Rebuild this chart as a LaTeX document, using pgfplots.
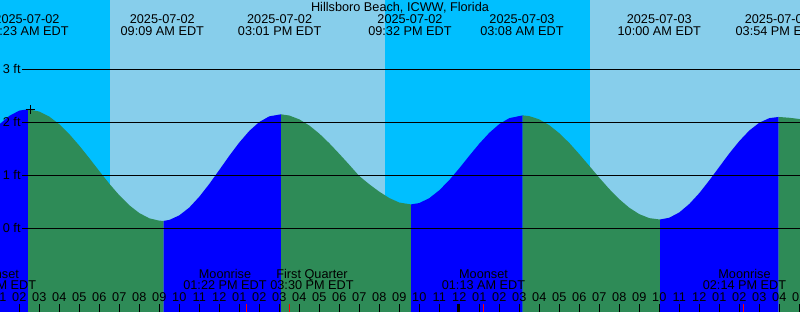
\documentclass[border=0pt]{standalone}
\usepackage{fontspec}
\setmainfont{Liberation Sans}
\usepackage{pgfplots}
\pgfplotsset{compat=1.18}
\definecolor{nightc}{HTML}{00BFFF}
\definecolor{dayc}{HTML}{87CEEB}
\definecolor{risec}{HTML}{0000FF}
\definecolor{fallc}{HTML}{2E8B57}
\newcommand\tf{\fontsize{12.7bp}{14bp}\selectfont}
\tikzset{lbl/.style={anchor=base, font=\tf, inner sep=0pt, overlay}}
\begin{document}
\begin{tikzpicture}
\begin{axis}[
  width=800bp, height=312bp, scale only axis,
  xmin=1.035, xmax=41.035, ymin=-1.58, ymax=4.307,
  axis line style={draw=none},
  axis on top,
  ytick=\empty,
  xtick={1,...,41},
  xticklabels={01,02,03,04,05,06,07,08,09,10,11,12,01,02,03,04,05,06,07,08,09,10,11,12,01,02,03,04,05,06,07,08,09,10,11,12,01,02,03,04,05},
  xtick pos=left,
  tick align=inside,
  major tick length=8bp,
  tick style={black, line width=1bp},
  xticklabel style={anchor=base, yshift=10.3bp, font=\tf, inner sep=0pt, overlay},
  extra x ticks={13.367,15.5,25.217,38.233},
  extra x tick labels={},
  extra x tick style={tick style={red, line width=1bp}},
  clip=true,
]
% day / night background
\addplot[fill=nightc, draw=none] coordinates {(1.035,-1.58) (1.035,4.307) (6.535,4.307) (6.535,-1.58)};
\addplot[fill=dayc, draw=none] coordinates {(6.535,-1.58) (6.535,4.307) (20.285,4.307) (20.285,-1.58)};
\addplot[fill=nightc, draw=none] coordinates {(20.285,-1.58) (20.285,4.307) (30.535,4.307) (30.535,-1.58)};
\addplot[fill=dayc, draw=none] coordinates {(30.535,-1.58) (30.535,4.307) (41.035,4.307) (41.035,-1.58)};
% tide: rising (blue) and falling (green)
\addplot[fill=risec, draw=none] coordinates {(1.035,-1.58) (1.035,1.97) (1.5,2.12) (2.0,2.22) (2.435,2.245) (2.435,-1.58)};
\addplot[fill=fallc, draw=none] coordinates {(2.435,-1.58) (2.435,2.245) (3,2.202) (3.5,2.107) (4,1.962) (4.5,1.776) (5,1.559) (5.5,1.323) (6,1.079) (6.5,0.841) (7,0.622) (7.5,0.434) (8,0.287) (8.5,0.188) (9,0.143) (9.22,0.14) (9.22,-1.58)};
\addplot[fill=risec, draw=none] coordinates {(9.22,-1.58) (9.22,0.14) (9.5,0.157) (10,0.243) (10.5,0.391) (11,0.595) (11.5,0.836) (12,1.100) (12.5,1.367) (13,1.618) (13.5,1.837) (14,2.005) (14.5,2.112) (15.085,2.15) (15.085,-1.58)};
\addplot[fill=fallc, draw=none] coordinates {(15.085,-1.58) (15.085,2.15) (15.5,2.127) (16,2.055) (16.5,1.939) (17,1.786) (17.5,1.604) (18,1.404) (18.5,1.197) (19,0.985) (19.5,0.83) (20,0.69) (20.5,0.57) (21,0.485) (21.585,0.45) (21.585,-1.58)};
\addplot[fill=risec, draw=none] coordinates {(21.585,-1.58) (21.585,0.45) (22,0.476) (22.5,0.568) (23,0.717) (23.5,0.909) (24,1.132) (24.5,1.368) (25,1.596) (25.5,1.801) (26,1.966) (26.5,2.078) (27.17,2.13) (27.17,-1.58)};
\addplot[fill=fallc, draw=none] coordinates {(27.17,-1.58) (27.17,2.13) (27.5,2.116) (28,2.054) (28.5,1.944) (29,1.793) (29.5,1.609) (30,1.398) (30.5,1.177) (31,0.953) (31.5,0.740) (32,0.548) (32.5,0.387) (33,0.266) (33.5,0.191) (34.035,0.165) (34.035,-1.58)};
\addplot[fill=risec, draw=none] coordinates {(34.035,-1.58) (34.035,0.165) (34.5,0.199) (35,0.299) (35.5,0.458) (36,0.663) (36.5,0.903) (37,1.158) (37.5,1.412) (38,1.645) (38.5,1.844) (39,1.991) (39.5,2.078) (39.97,2.10) (39.97,-1.58)};
\addplot[fill=fallc, draw=none] coordinates {(39.97,-1.58) (39.97,2.10) (40.5,2.085) (41.035,2.06) (41.035,-1.58)};
% depth lines
\addplot[black, line width=1bp] coordinates {(2.135,0) (41.035,0)};
\addplot[black, line width=1bp] coordinates {(2.135,1) (41.035,1)};
\addplot[black, line width=1bp] coordinates {(2.135,2) (41.035,2)};
\addplot[black, line width=1bp] coordinates {(2.135,3) (41.035,3)};
% midnight tick
\addplot[black, line width=3bp] coordinates {(23.98,-1.58) (23.98,-1.429)};
% current-time mark
\addplot[only marks, mark=+, mark size=4.3bp, black, mark options={line width=1bp}] coordinates {(2.55,2.245)};
% depth labels
\node[anchor=base west, font=\tf, inner sep=0pt, xshift=2.7bp, yshift=-4.6bp] at (axis cs:1.035,3) {3 ft};
\node[anchor=base west, font=\tf, inner sep=0pt, xshift=2.7bp, yshift=-4.6bp] at (axis cs:1.035,2) {2 ft};
\node[anchor=base west, font=\tf, inner sep=0pt, xshift=2.7bp, yshift=-4.6bp] at (axis cs:1.035,1) {1 ft};
\node[anchor=base west, font=\tf, inner sep=0pt, xshift=2.7bp, yshift=-4.6bp] at (axis cs:1.035,0) {0 ft};
% first hour label (tick just left of the frame)
\node[lbl, yshift=10.3bp] at (axis cs:1.0,-1.58) {01};
% title
\node[lbl, yshift=-11.7bp] at (axis cs:21.035,4.307) {Hillsboro Beach, ICWW, Florida};
% tide extremes labels
\node[lbl, yshift=-24bp] at (axis cs:2.383,4.307) {2025-07-02};
\node[lbl, yshift=-36bp] at (axis cs:2.383,4.307) {02:23 AM EDT};
\node[lbl, yshift=-24bp] at (axis cs:9.15,4.307) {2025-07-02};
\node[lbl, yshift=-36bp] at (axis cs:9.15,4.307) {09:09 AM EDT};
\node[lbl, yshift=-24bp] at (axis cs:15.017,4.307) {2025-07-02};
\node[lbl, yshift=-36bp] at (axis cs:15.017,4.307) {03:01 PM EDT};
\node[lbl, yshift=-24bp] at (axis cs:21.533,4.307) {2025-07-02};
\node[lbl, yshift=-36bp] at (axis cs:21.533,4.307) {09:32 PM EDT};
\node[lbl, yshift=-24bp] at (axis cs:27.133,4.307) {2025-07-03};
\node[lbl, yshift=-36bp] at (axis cs:27.133,4.307) {03:08 AM EDT};
\node[lbl, yshift=-24bp] at (axis cs:34.0,4.307) {2025-07-03};
\node[lbl, yshift=-36bp] at (axis cs:34.0,4.307) {10:00 AM EDT};
\node[lbl, yshift=-24bp] at (axis cs:39.9,4.307) {2025-07-03};
\node[lbl, yshift=-36bp] at (axis cs:39.9,4.307) {03:54 PM EDT};
% moon events
\node[lbl, yshift=33.7bp] at (axis cs:0.76,-1.58) {Moonset};
\node[lbl, yshift=22.7bp] at (axis cs:0.76,-1.58) {12:46 AM EDT};
\node[lbl, yshift=33.7bp] at (axis cs:12.285,-1.58) {Moonrise};
\node[lbl, yshift=22.7bp] at (axis cs:12.285,-1.58) {01:22 PM EDT};
\node[lbl, yshift=33.7bp] at (axis cs:16.635,-1.58) {First Quarter};
\node[lbl, yshift=22.7bp] at (axis cs:16.635,-1.58) {03:30 PM EDT};
\node[lbl, yshift=33.7bp] at (axis cs:25.21,-1.58) {Moonset};
\node[lbl, yshift=22.7bp] at (axis cs:25.21,-1.58) {01:13 AM EDT};
\node[lbl, yshift=33.7bp] at (axis cs:38.26,-1.58) {Moonrise};
\node[lbl, yshift=22.7bp] at (axis cs:38.26,-1.58) {02:14 PM EDT};
\end{axis}
\end{tikzpicture}
\end{document}
